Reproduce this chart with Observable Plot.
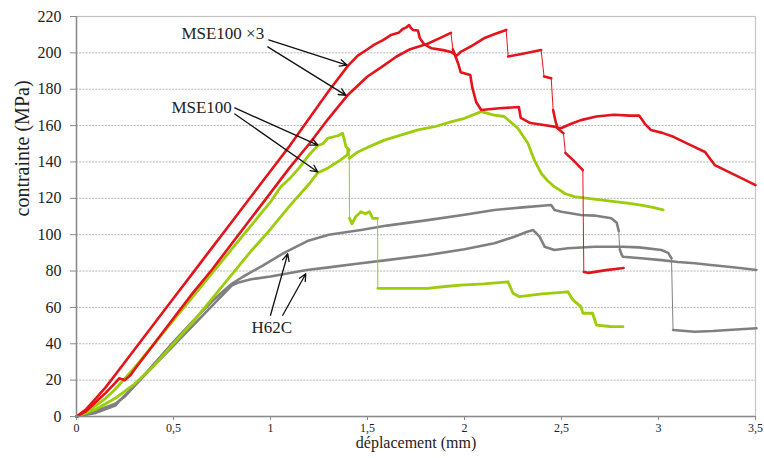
<!DOCTYPE html>
<html>
<head>
<meta charset="utf-8">
<script src="https://cdn.jsdelivr.net/npm/d3@7"></script>
<script src="https://cdn.jsdelivr.net/npm/@observablehq/plot@0.6"></script>
<style>
  html, body { margin: 0; padding: 0; background: #fff; }
  #chart { width: 764px; height: 458px; }
</style>
</head>
<body>
<div id="chart"></div>
<script>
// ---- Data (déplacement in mm, contrainte in MPa) ----
const xTicks = [0, 0.5, 1, 1.5, 2, 2.5, 3, 3.5];
const yTicks = [0, 20, 40, 60, 80, 100, 120, 140, 160, 180, 200, 220];

const mse100x3_a = [[0,0],[0.05,4],[0.1,10],[0.15,16],[0.2,23],[0.3,37],[0.4,51],[0.5,65],[0.6,79],[0.7,93],[0.8,107],[0.9,121],[1.0,135],[1.1,149],[1.2,164],[1.3,179],[1.4,193],[1.45,198.5],[1.5,202],[1.533,204.4],[1.58,207],[1.62,209.8],[1.66,211],[1.68,213],[1.70,214],[1.714,215.3],[1.725,213.5],[1.735,212.6],[1.76,212.3],[1.77,208],[1.79,205],[1.83,202.5],[1.89,201.5],[1.93,200.5],[1.96,198.5],[1.98,200.5],[2.04,204],[2.10,208],[2.16,210.5],[2.215,212.6],[2.225,198],[2.3,199.5],[2.395,201.6],[2.41,187],[2.447,186],[2.457,168.5],[2.47,162],[2.48,158.7],[2.50,158.7],[2.55,161],[2.60,163],[2.68,165],[2.77,166],[2.85,165.5],[2.90,165.5],[2.93,161],[2.96,157.6],[3.02,156],[3.08,153.7],[3.16,149.5],[3.24,145.5],[3.29,138.3],[3.34,135.6],[3.43,131],[3.50,127.3]];

const mse100x3_b = [[0,0],[0.05,3],[0.1,8],[0.15,13],[0.2,18.5],[0.22,21],[0.25,20],[0.28,23],[0.3,26],[0.4,40],[0.5,54],[0.6,68],[0.7,81],[0.8,95],[0.9,109],[1.0,123],[1.1,137],[1.2,150],[1.3,164],[1.4,177],[1.5,187],[1.57,192],[1.65,198],[1.72,202],[1.81,205],[1.87,208],[1.93,211],[1.94,202],[1.97,193.3],[1.98,189.4],[2.03,187.8],[2.04,181],[2.06,173],[2.086,168.6],[2.18,169.5],[2.28,170.2],[2.29,164.2],[2.34,161.4],[2.40,160.5],[2.47,159.3],[2.51,155.8],[2.52,145],[2.56,141],[2.61,135.5],[2.615,79.5],[2.64,79],[2.73,80.5],[2.82,81.7]];

const mse100_a = [[0,0],[0.05,2.5],[0.1,6],[0.15,10],[0.2,15],[0.3,27],[0.4,40],[0.5,53],[0.6,66],[0.7,79],[0.8,92],[0.9,105],[1.0,118],[1.05,126],[1.07,128],[1.1,131],[1.15,137],[1.2,144],[1.243,149],[1.27,150],[1.294,153],[1.33,154],[1.35,154.5],[1.372,155.8],[1.389,148.4],[1.406,146.6],[1.407,109],[1.42,106],[1.44,110],[1.466,112.6],[1.49,111.5],[1.51,112.6],[1.527,109],[1.552,109],[1.553,70.5],[1.561,70.5],[1.7,70.5],[1.81,70.5],[1.9,71.5],[1.98,72.3],[2.1,73],[2.224,74.1],[2.25,67.8],[2.283,65.9],[2.4,67.5],[2.533,68.6],[2.56,64],[2.60,60.4],[2.61,56.8],[2.66,56.8],[2.68,50.3],[2.75,49.5],[2.817,49.4]];

const mse100_b = [[0,0],[0.05,2],[0.1,4],[0.2,10],[0.3,18],[0.4,28],[0.5,40],[0.6,52],[0.7,65],[0.8,78],[0.9,91],[1.0,103],[1.1,116],[1.2,128],[1.243,134],[1.294,136.5],[1.32,138.3],[1.36,141],[1.397,144],[1.40,147],[1.406,142],[1.45,145.5],[1.5,148],[1.587,152],[1.68,155],[1.76,157.6],[1.85,159.5],[1.93,162],[2.0,164],[2.086,167.7],[2.153,165.8],[2.205,165],[2.275,158.5],[2.327,150.3],[2.36,141],[2.395,133.8],[2.43,129.5],[2.463,126.4],[2.52,122.5],[2.566,120.9],[2.636,120],[2.70,119.2],[2.774,118.2],[2.85,117.2],[2.91,116.3],[2.97,115],[3.024,113.6]];

const h62c_a = [[0,0],[0.1,3],[0.2,7],[0.25,11],[0.3,17],[0.4,29],[0.5,41],[0.6,52.5],[0.7,63.5],[0.8,73],[0.86,77],[0.96,83],[1.07,90],[1.19,96.5],[1.3,100],[1.466,102.6],[1.6,105],[1.81,108],[2.0,111],[2.154,113.6],[2.3,115],[2.447,116.3],[2.464,113.6],[2.5,112.6],[2.6,110.8],[2.67,110.5],[2.757,109],[2.785,106.5],[2.795,102],[2.80,92],[2.81,89],[2.817,87.9],[2.91,87],[3.015,86],[3.1,85],[3.187,84.3],[3.27,83.3],[3.36,82.4],[3.43,81.5],[3.505,80.6]];

const h62c_b = [[0,0],[0.1,2],[0.2,6],[0.224,9],[0.3,17],[0.4,28],[0.5,39],[0.6,50],[0.7,61],[0.8,72],[0.83,73.5],[0.9,75.5],[1.0,77],[1.187,80.6],[1.3,82],[1.466,84.3],[1.6,86],[1.81,88.8],[2.0,92],[2.154,95.3],[2.257,98.9],[2.32,101.5],[2.353,102.6],[2.387,98.9],[2.413,93.4],[2.464,91.6],[2.533,92.5],[2.67,93.4],[2.81,93.4],[2.9,93],[3.015,91.6],[3.05,90],[3.067,87],[3.075,47.6],[3.187,46.6],[3.28,47],[3.36,47.6],[3.505,48.5]];

// Annotation labels and arrows (data coordinates)
const labelTexts = ["MSE100 ×3", "MSE100", "H62C"];
const labelX = [0.754, 0.645, 1.007];
const labelY = [210.4, 169.7, 48.7];
const arrowFrom = [[0.991,207.1],[0.986,203.3],[0.816,169.7],[0.816,166.4],[1.0,55.7],[1.063,55.7]];
const arrowTo   = [[1.394,193.3],[1.389,176.6],[1.244,149.3],[1.244,134.5],[1.089,89.5],[1.182,78.5]];

// ---- Styles ----
const RED = "#e3141b", GREEN = "#9ccc0a", GRAY = "#808080";
const seriesList = [
  {pts: h62c_a, color: GRAY, w: 2.6},
  {pts: h62c_b, color: GRAY, w: 2.6},
  {pts: mse100_a, color: GREEN, w: 2.8},
  {pts: mse100_b, color: GREEN, w: 2.8},
  {pts: mse100x3_a, color: RED, w: 2.6},
  {pts: mse100x3_b, color: RED, w: 2.6}
];

// split each curve: steep drops are drawn as thin lines, as in the source plot
function split(pts) {
  const rows = [], thin = [];
  let run = 0;
  for (let i = 0; i < pts.length; i++) {
    if (i > 0) {
      const dx = pts[i][0] - pts[i-1][0], dy = pts[i][1] - pts[i-1][1];
      if (Math.abs(dy) > 4 && Math.abs(dy) / Math.max(Math.abs(dx), 1e-9) > 700) {
        thin.push({x1: pts[i-1][0], y1: pts[i-1][1], x2: pts[i][0], y2: pts[i][1]});
        run++;
      }
    }
    rows.push({x: pts[i][0], y: pts[i][1], run});
  }
  return {rows, thin};
}

const FONT = "'Liberation Serif', 'Times New Roman', serif";
const marks = [];

// grid
marks.push(Plot.ruleY(yTicks.filter(d => d > 0 && d < 220), {stroke: "#b4b4b4", strokeWidth: 1, strokeDasharray: "2,1.2"}));
marks.push(Plot.frame({stroke: "#c4c4c4", strokeWidth: 1.2}));

// curves
for (const s of seriesList) {
  const {rows, thin} = split(s.pts);
  marks.push(Plot.link(thin, {x1: "x1", y1: "y1", x2: "x2", y2: "y2", stroke: s.color, strokeWidth: 1}));
  marks.push(Plot.line(rows, {x: "x", y: "y", z: "run", stroke: s.color, strokeWidth: s.w, strokeLinejoin: "round", strokeLinecap: "round"}));
}

// axes lines
marks.push(Plot.ruleX([0], {stroke: "#8a8a8a", strokeWidth: 1.5}));
marks.push(Plot.ruleY([0], {stroke: "#8a8a8a", strokeWidth: 1.5}));

// axes
marks.push(Plot.axisY(yTicks, {tickSize: 6, tickPadding: 9, fontSize: 16, fontFamily: FONT, fill: "#222", stroke: "#8a8a8a", label: null}));
marks.push(Plot.axisX(xTicks, {tickSize: 4, tickPadding: 3, fontSize: 12, fontFamily: FONT, fill: "#222", stroke: "#8a8a8a", label: null,
  tickFormat: d => String(d).replace(".", ",")}));

// axis titles
marks.push(Plot.text(["contrainte (MPa)"], {text: d => d, frameAnchor: "left", dx: -54, rotate: -90, fontSize: 20, fontFamily: FONT, fill: "#222"}));
marks.push(Plot.text(["déplacement (mm)"], {text: d => d, frameAnchor: "bottom", dy: 31, fontSize: 16, fontFamily: FONT, fill: "#222"}));

// annotations
const arrowData = arrowFrom.map((f, i) => ({x1: f[0], y1: f[1], x2: arrowTo[i][0], y2: arrowTo[i][1]}));
marks.push(Plot.arrow(arrowData, {x1: "x1", y1: "y1", x2: "x2", y2: "y2", stroke: "#111", strokeWidth: 1.3, headLength: 9, headAngle: 50, bend: 0}));
const labelData = labelTexts.map((t, i) => ({t, x: labelX[i], y: labelY[i]}));
marks.push(Plot.text(labelData, {x: "x", y: "y", text: "t", fontSize: 17, fontFamily: FONT, fill: "#222"}));

const chart = Plot.plot({
  width: 764,
  height: 458,
  marginLeft: 76,
  marginRight: 9,
  marginTop: 16,
  marginBottom: 42,
  style: {fontFamily: FONT, background: "#fff", color: "#222"},
  x: {domain: [0, 3.5]},
  y: {domain: [0, 220]},
  marks
});
document.getElementById("chart").appendChild(chart);
</script>
</body>
</html>
